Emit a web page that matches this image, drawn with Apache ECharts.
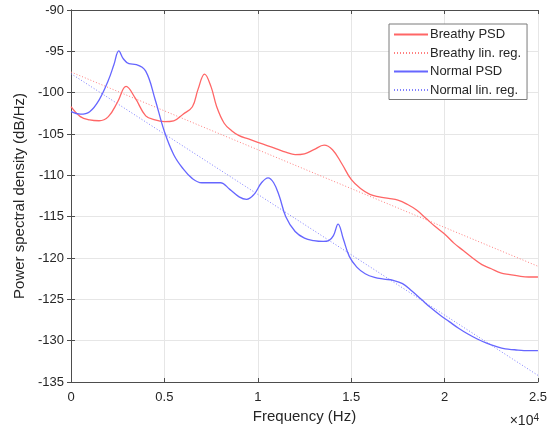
<!DOCTYPE html>
<html>
<head>
<meta charset="utf-8">
<script src="https://cdn.jsdelivr.net/npm/echarts@6/dist/echarts.min.js"></script>
<style>
  html, body { margin: 0; padding: 0; background: #fff; }
  #chart { width: 550px; height: 432px; }
</style>
</head>
<body>
<div id="chart"></div>
<script>
// frequency (Hz) and PSD (dB/Hz)
var breathyFreq = [0, 500, 1000, 1500, 2000, 2500, 2950, 3450, 4000, 4500, 5000, 5500, 6000, 6500, 6800, 7150, 7500, 7800, 8200, 8600, 9000, 9500, 10000, 10500, 11000, 11500, 12000, 12500, 13000, 13550, 14000, 14500, 15000, 15500, 16000, 16500, 17000, 17500, 18000, 18500, 19000, 19500, 20000, 20500, 21000, 21500, 22000, 22500, 23000, 23500, 24000, 24500, 25000];
var breathyPsd = [-101.7, -102.9, -103.3, -103.4, -102.9, -101.1, -99.25, -100.7, -102.8, -103.3, -103.5, -103.4, -102.6, -101.7, -99.6, -97.75, -99.3, -101.7, -103.7, -104.6, -105.2, -105.6, -106.0, -106.4, -106.8, -107.2, -107.5, -107.4, -106.9, -106.35, -106.9, -108.6, -110.5, -111.6, -112.3, -112.6, -112.8, -113.0, -113.5, -114.2, -115.2, -116.2, -117.1, -118.2, -119.1, -120.0, -120.8, -121.3, -121.8, -122.0, -122.2, -122.3, -122.3];
var breathyReg = [-97.5, -121.0];

var normalFreq = [0, 500, 1000, 1500, 2000, 2300, 2560, 2800, 3100, 3500, 4000, 4500, 5000, 5500, 6000, 6500, 7000, 7500, 8000, 8500, 9000, 9400, 9800, 10200, 10550, 10850, 11150, 11500, 12000, 12500, 13000, 13500, 13800, 14050, 14300, 14580, 14900, 15300, 15750, 16250, 16750, 17250, 17750, 18250, 18750, 19250, 19750, 20250, 20750, 21250, 21750, 22250, 22750, 23250, 23750, 24250, 25000];
var normalPsd = [-102.3, -102.6, -102.3, -100.9, -98.5, -96.6, -94.95, -95.9, -96.5, -96.6, -97.4, -100.8, -104.7, -107.5, -109.2, -110.4, -110.9, -110.9, -110.9, -111.7, -112.6, -112.9, -112.3, -110.9, -110.3, -110.9, -112.5, -115.0, -116.8, -117.6, -117.9, -118.0, -117.9, -117.3, -115.9, -117.7, -119.8, -121.1, -121.9, -122.35, -122.55, -122.7, -123.1, -124.0, -125.0, -126.0, -126.9, -127.7, -128.5, -129.2, -129.8, -130.3, -130.7, -131.0, -131.1, -131.2, -131.2];
var normalReg = [-97.7, -134.2];

var regFreq = [0, 25000];

function pairs(xs, ys) {
  return xs.map(function (x, i) { return [x, ys[i]]; });
}

var chart = echarts.init(document.getElementById('chart'), null, { renderer: 'canvas' });

var font = 'Liberation Sans, Arial, sans-serif';
var axisColor = '#4d4d4d';
var textColor = '#262626';

var option = {
  animation: false,
  backgroundColor: '#fff',
  grid: { left: 71, right: 10, top: 10, bottom: 50, containLabel: false },
  legend: {
    orient: 'vertical',
    left: 389,
    top: 24,
    backgroundColor: '#fff',
    borderColor: '#7a7a7a',
    borderWidth: 1,
    borderRadius: 0,
    padding: [4, 6, 3, 4],
    itemWidth: 34,
    itemHeight: 13,
    itemGap: 5.5,
    itemStyle: { opacity: 0 },
    textStyle: { fontFamily: font, fontSize: 13, color: textColor, padding: [0, 0, 0, -3] },
    data: ['Breathy PSD', 'Breathy lin. reg.', 'Normal PSD', 'Normal lin. reg.']
  },
  xAxis: [{
    type: 'value',
    min: 0, max: 25000, interval: 5000,
    name: 'Frequency (Hz)',
    nameLocation: 'middle',
    nameGap: 24,
    nameTextStyle: { fontFamily: font, fontSize: 15, color: textColor },
    axisLine: { show: true, lineStyle: { color: axisColor } },
    axisTick: { inside: true, length: 4, lineStyle: { color: axisColor } },
    axisLabel: {
      margin: 9, fontFamily: font, fontSize: 13, color: textColor,
      formatter: function (v) { return String(v / 10000); }
    },
    splitLine: { show: true, lineStyle: { color: '#e6e6e6' } }
  }, {
    type: 'value',
    position: 'top',
    min: 0, max: 25000, interval: 5000,
    axisLine: { show: true, lineStyle: { color: axisColor } },
    axisTick: { inside: true, length: 4, lineStyle: { color: axisColor } },
    axisLabel: { show: false },
    splitLine: { show: false }
  }],
  yAxis: [{
    type: 'value',
    min: -135, max: -90, interval: 5,
    name: 'Power spectral density (dB/Hz)',
    nameLocation: 'middle',
    nameGap: 43,
    nameTextStyle: { fontFamily: font, fontSize: 15, color: textColor },
    axisLine: { show: true, lineStyle: { color: axisColor } },
    axisTick: { inside: true, length: 4, lineStyle: { color: axisColor } },
    axisLabel: { margin: 7, fontFamily: font, fontSize: 13, color: textColor },
    splitLine: { show: true, lineStyle: { color: '#e6e6e6' } }
  }, {
    type: 'value',
    position: 'right',
    min: -135, max: -90, interval: 5,
    axisLine: { show: true, lineStyle: { color: axisColor } },
    axisTick: { inside: true, length: 4, lineStyle: { color: axisColor } },
    axisLabel: { show: false },
    splitLine: { show: false }
  }],
  graphic: [{
    type: 'text',
    right: 11,
    top: 413,
    style: {
      rich: {
        a: { fontFamily: font, fontSize: 14, fill: textColor },
        b: { fontFamily: font, fontSize: 10, fill: textColor, verticalAlign: 'top', padding: [0, 0, 6, 0] }
      },
      text: '{a|\u00d710}{b|4}'
    }
  }],
  series: [{
    name: 'Breathy PSD',
    type: 'line',
    data: pairs(breathyFreq, breathyPsd),
    smooth: 0.4,
    symbol: 'none',
    lineStyle: { color: '#ff6666', width: 1.3 },
    itemStyle: { color: '#ff6666' },
    z: 3
  }, {
    name: 'Breathy lin. reg.',
    type: 'line',
    data: pairs(regFreq, breathyReg),
    symbol: 'none',
    lineStyle: { color: '#ff8080', width: 1, type: [1, 2] },
    itemStyle: { color: '#ff8080' },
    z: 2
  }, {
    name: 'Normal PSD',
    type: 'line',
    data: pairs(normalFreq, normalPsd),
    smooth: 0.4,
    symbol: 'none',
    lineStyle: { color: '#6666ff', width: 1.3 },
    itemStyle: { color: '#6666ff' },
    z: 3
  }, {
    name: 'Normal lin. reg.',
    type: 'line',
    data: pairs(regFreq, normalReg),
    symbol: 'none',
    lineStyle: { color: '#8080ff', width: 1, type: [1, 2] },
    itemStyle: { color: '#8080ff' },
    z: 2
  }]
};

chart.setOption(option);
</script>
</body>
</html>
